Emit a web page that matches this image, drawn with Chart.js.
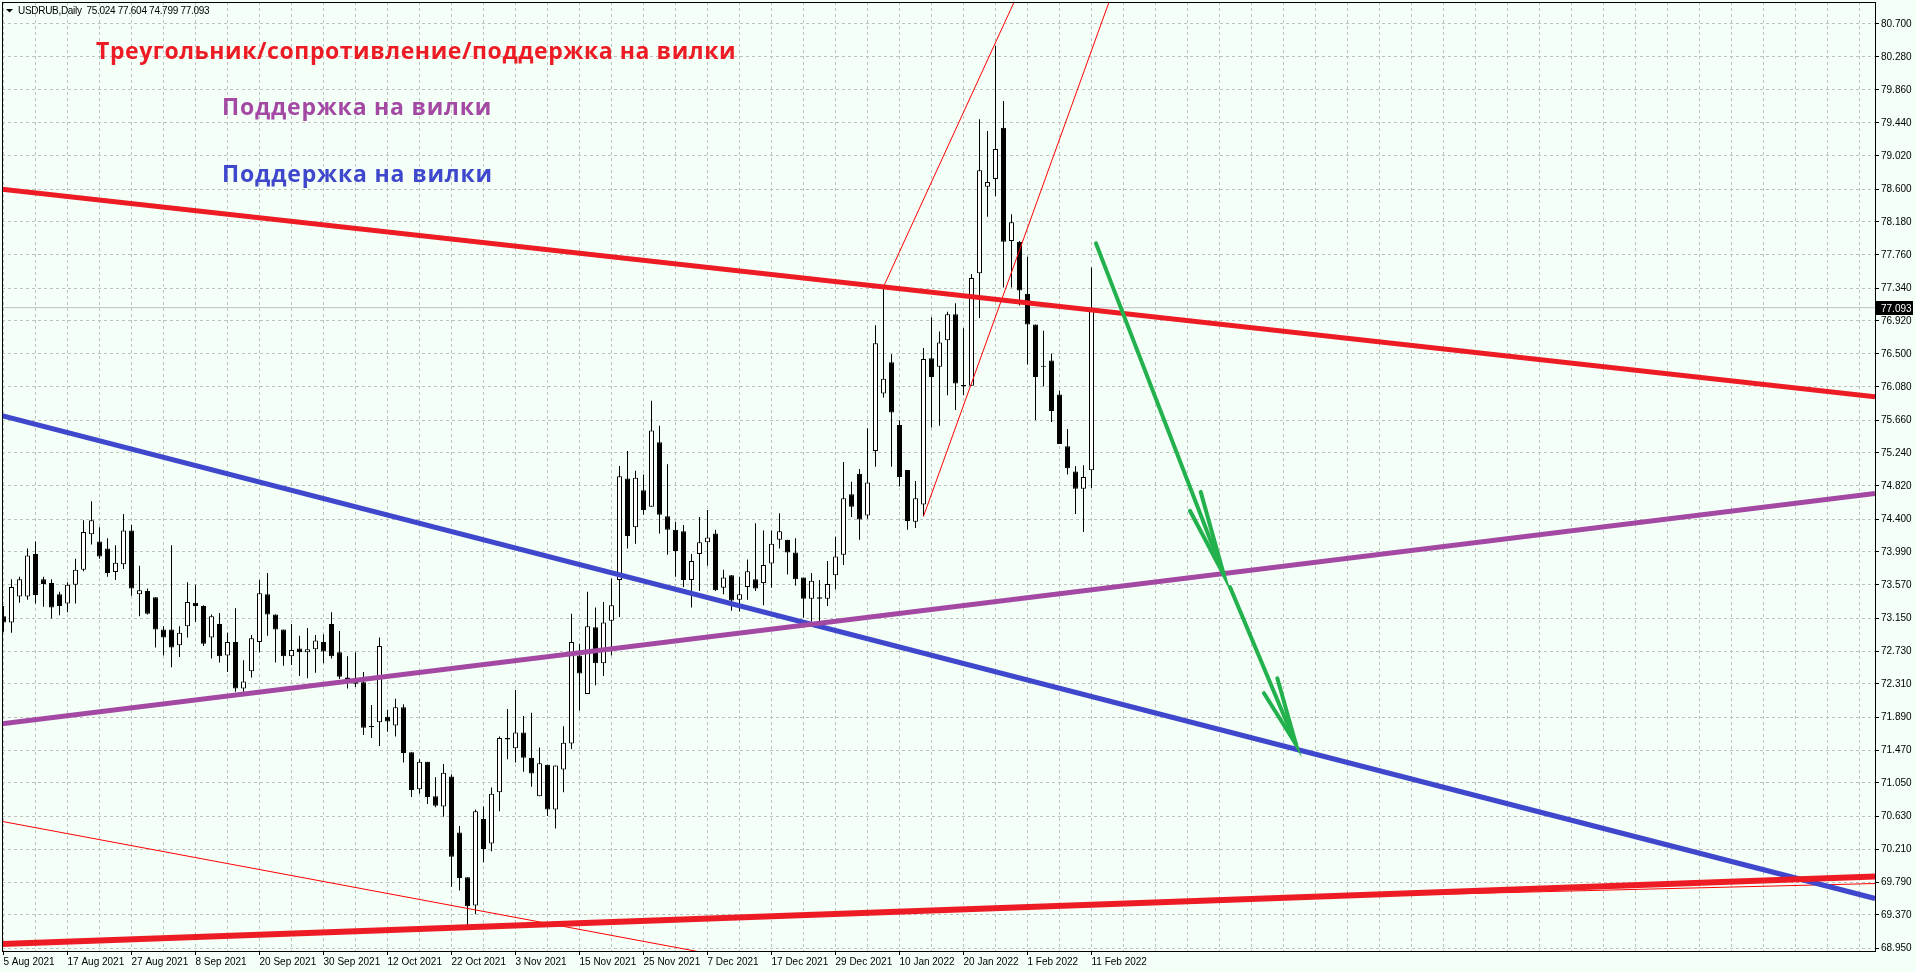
<!DOCTYPE html>
<html>
<head>
<meta charset="utf-8">
<title>USDRUB Daily</title>
<script src="https://cdn.jsdelivr.net/npm/chart.js@4.4.1/dist/chart.umd.min.js"></script>
<style>
  html, body { margin: 0; padding: 0; background: #f4fff8; }
  #wrap { position: relative; width: 1916px; height: 972px; overflow: hidden; }
  #usdrub { position: absolute; left: 0; top: 0; }
  .note { position: absolute; white-space: nowrap; font-family: 'Open Sans', 'Noto Sans', sans-serif; font-weight: 700; font-size: 23px; line-height: 23px; }
  #head { position: absolute; left: 18px; top: 6px; font: 10px/10px 'Liberation Sans', Arial, sans-serif; letter-spacing: -0.3px; color: #000; white-space: pre; }
</style>
</head>
<body>
<div id="wrap">
  <canvas id="usdrub" width="1916" height="972"></canvas>
  <div id="head"></div>
  <div class="note" id="t1" style="left:96px; top:39px; color:#ed1c24">Треугольник/сопротивление/поддержка на вилки</div>
  <div class="note" id="t2" style="left:222px; top:95px; color:#a349a4">Поддержка на вилки</div>
  <div class="note" id="t3" style="left:222px; top:162px; color:#3f48cc">Поддержка на вилки</div>
</div>
<script>
// daily bars, one per trading day starting 5 Aug 2021
const xLabels = ['5 Aug 2021', '17 Aug 2021', '27 Aug 2021', '8 Sep 2021', '20 Sep 2021', '30 Sep 2021',
  '12 Oct 2021', '22 Oct 2021', '3 Nov 2021', '15 Nov 2021', '25 Nov 2021', '7 Dec 2021', '17 Dec 2021',
  '29 Dec 2021', '10 Jan 2022', '20 Jan 2022', '1 Feb 2022', '11 Feb 2022']

// price axis, top to bottom
const yLabels = ['80.700', '80.280', '79.860', '79.440', '79.020', '78.600', '78.180', '77.760', '77.340',
  '76.920', '76.500', '76.080', '75.660', '75.240', '74.820', '74.400', '73.990', '73.570', '73.150',
  '72.730', '72.310', '71.890', '71.470', '71.050', '70.630', '70.210', '69.790', '69.370', '68.950']

const opens = [73.17, 73.09, 73.42, 73.42, 73.96, 73.64, 73.59, 73.45, 73.33, 73.57,
  73.76, 74.21, 74.12, 74.03, 73.73, 73.83, 74.26, 73.45, 73.49, 73.41,
  73.00, 73.00, 72.80, 73.04, 73.34, 73.30, 72.90, 73.07, 72.67, 72.84,
  72.25, 72.47, 72.84, 73.45, 73.19, 73.00, 72.66, 72.76, 72.71, 72.75,
  72.84, 73.07, 72.71, 72.39, 72.37, 72.33, 71.76, 71.82, 71.89, 71.78,
  72.01, 71.44, 70.97, 71.32, 70.88, 70.75, 71.13, 70.42, 69.85, 69.49,
  70.59, 70.28, 70.93, 71.62, 71.49, 71.69, 71.37, 70.88, 71.28, 70.71,
  71.22, 71.55, 72.67, 72.18, 73.03, 72.57, 73.11, 73.63, 74.92, 74.30,
  74.77, 74.56, 75.38, 74.44, 74.27, 74.25, 73.63, 73.96, 74.11, 74.22,
  73.53, 73.69, 73.38, 73.54, 73.64, 73.59, 73.84, 74.14, 74.14, 73.98,
  73.66, 73.39, 73.39, 73.39, 73.69, 73.95, 74.72, 74.98, 74.45, 75.27,
  76.00, 76.40, 75.60, 75.03, 74.37, 74.59, 76.45, 76.34, 76.68, 77.01,
  76.11, 76.10, 77.53, 78.63, 78.73, 79.38, 77.94, 77.93, 77.27, 76.88,
  76.34, 76.42, 75.99, 75.33, 75.01, 74.79, 75.024]

const highs = [73.30, 73.64, 73.67, 74.03, 74.12, 73.67, 73.64, 73.48, 73.60, 73.90,
  74.39, 74.63, 74.30, 74.16, 74.07, 74.47, 74.33, 73.81, 73.52, 73.41,
  73.04, 74.07, 73.04, 73.60, 73.57, 73.31, 73.19, 73.21, 72.96, 73.27,
  72.61, 72.93, 73.63, 73.72, 73.19, 73.00, 73.07, 72.92, 73.02, 72.93,
  72.94, 73.22, 72.98, 72.66, 72.71, 72.46, 72.04, 72.90, 71.98, 72.12,
  72.05, 71.44, 71.35, 71.32, 71.12, 71.29, 71.16, 70.50, 69.85, 70.71,
  70.75, 70.99, 71.64, 71.99, 72.23, 71.90, 71.94, 71.50, 71.28, 71.27,
  71.77, 73.20, 72.82, 73.48, 73.28, 73.35, 73.65, 75.08, 75.27, 75.02,
  74.97, 75.91, 75.59, 75.10, 74.37, 74.33, 73.96, 74.43, 74.52, 74.27,
  73.76, 73.69, 73.67, 73.89, 74.35, 74.26, 74.26, 74.48, 74.14, 74.16,
  73.66, 73.72, 73.63, 73.87, 74.18, 75.13, 74.88, 75.04, 75.56, 76.87,
  77.36, 76.50, 75.66, 75.03, 74.89, 76.58, 76.97, 76.79, 77.04, 77.15,
  76.83, 77.52, 79.49, 79.34, 80.42, 79.72, 78.28, 77.94, 77.74, 76.88,
  76.80, 76.51, 76.04, 75.55, 75.08, 75.09, 77.604]

const lows = [72.97, 72.96, 73.34, 73.38, 73.33, 73.29, 73.14, 73.18, 73.22, 73.33,
  73.74, 74.08, 73.90, 73.67, 73.63, 73.77, 73.43, 73.17, 73.19, 72.77,
  72.67, 72.52, 72.65, 72.90, 73.10, 72.79, 72.63, 72.58, 72.46, 72.21,
  72.21, 72.39, 72.71, 72.92, 72.58, 72.54, 72.55, 72.41, 72.38, 72.45,
  72.57, 72.63, 72.37, 72.25, 72.27, 71.66, 71.62, 71.52, 71.70, 71.64,
  71.31, 70.87, 70.91, 70.78, 70.74, 70.62, 69.73, 69.68, 69.23, 69.38,
  70.04, 70.18, 70.69, 71.35, 71.31, 71.19, 71.00, 70.88, 70.63, 70.47,
  70.93, 71.48, 71.97, 72.18, 72.29, 72.41, 72.67, 73.16, 74.03, 74.09,
  74.46, 74.56, 74.22, 73.95, 73.67, 73.54, 73.28, 73.49, 73.81, 73.49,
  73.45, 73.24, 73.23, 73.38, 73.49, 73.31, 73.53, 74.03, 73.70, 73.56,
  73.15, 73.10, 73.10, 73.30, 73.51, 73.82, 74.43, 74.14, 74.41, 75.07,
  75.95, 75.07, 74.82, 74.27, 74.29, 74.44, 75.57, 75.59, 75.98, 75.79,
  75.98, 76.10, 76.96, 78.25, 78.51, 77.35, 77.35, 77.12, 76.37, 75.66,
  76.09, 75.64, 75.36, 74.97, 74.47, 74.24, 74.799]

const closes = [73.09, 73.54, 73.64, 73.94, 73.44, 73.58, 73.28, 73.30, 73.57, 73.76,
  74.24, 74.39, 73.93, 73.72, 73.85, 74.26, 73.52, 73.50, 73.20, 73.00,
  72.90, 72.77, 72.96, 73.35, 73.30, 72.82, 73.17, 72.66, 72.84, 72.25,
  72.34, 72.89, 73.46, 73.19, 73.00, 72.66, 72.74, 72.71, 72.75, 72.86,
  72.72, 72.66, 72.40, 72.37, 72.31, 71.75, 71.76, 72.79, 71.83, 72.01,
  71.43, 70.96, 71.32, 70.87, 70.76, 71.18, 70.11, 69.84, 69.48, 70.69,
  70.21, 70.91, 71.62, 71.60, 71.69, 71.37, 71.17, 71.30, 70.71, 71.27,
  71.56, 72.84, 72.44, 73.04, 72.57, 73.09, 73.31, 74.95, 74.19, 74.93,
  74.52, 75.53, 74.46, 74.27, 74.00, 73.63, 73.87, 74.11, 74.17, 73.50,
  73.66, 73.37, 73.45, 73.74, 73.52, 73.82, 74.09, 74.25, 73.98, 73.64,
  73.39, 73.62, 73.41, 73.58, 73.93, 74.67, 74.56, 74.40, 74.87, 76.64,
  76.19, 75.76, 74.94, 74.38, 74.67, 76.44, 76.21, 76.65, 77.01, 76.13,
  76.09, 77.47, 78.84, 78.69, 79.11, 77.93, 78.18, 77.31, 76.88, 76.21,
  76.34, 75.78, 75.36, 75.05, 74.79, 74.94, 77.093]

// lines drawn over the chart, as [bar index, price]
const redUpper = [[-0.19, 78.60], [233.94, 75.96]]
const redLower = [[-0.19, 69.00], [233.94, 69.86]]
const redLowerThin = [[162.06, 69.59], [233.94, 69.77]]
const purpleLine = [[-0.19, 71.80], [233.94, 74.73]]
const blueLine = [[-0.19, 75.72], [233.94, 69.58]]
const thinDown = [[-0.19, 70.56], [87.06, 68.90]]
const forkA = [[110, 77.36], [127.5, 81.24]]
const forkB = [[115, 74.44], [140, 81.49]]
const arrow1 = [[136.56, 77.91], [152.56, 73.69]]
const head1 = [[148.31, 74.51], [152.56, 73.69], [149.65, 74.75]]
const arrow2 = [[153.31, 73.54], [161.56, 71.54]]
const head2 = [[157.56, 72.19], [161.56, 71.54], [159.23, 72.38]]

const lastClose = closes[closes.length - 1]

// header text
document.getElementById('head').textContent =
  'USDRUB,Daily  ' + [opens, highs, lows, closes].map(a => a[a.length - 1].toFixed(3)).join(' ')

// stretch the notes to the width they have in the picture
const noteWidths = { t1: 640, t2: 270, t3: 271 }
Object.keys(noteWidths).forEach(id => {
  const el = document.getElementById(id)
  const w = el.getBoundingClientRect().width
  el.style.letterSpacing = ((noteWidths[id] - w) / el.textContent.length).toFixed(2) + 'px'
})

const pts = arr => arr.map(p => ({ x: p[0], y: p[1] }))
const idx = opens.map((_, i) => i)

// plot area in pixels: MT4 window
const plot = { left: 2, top: 2, right: 1875, bottom: 951 }
const barPx = 8
const firstBarX = 3.5
const xMin = -(firstBarX - plot.left) / barPx
const xMax = xMin + (plot.right - plot.left) / barPx

const yTop = parseFloat(yLabels[0])
const yBottom = parseFloat(yLabels[yLabels.length - 1])
const yStep = (yTop - yBottom) / (yLabels.length - 1)
const pxPerUnit = (948 - 24) / (yTop - yBottom)
const yMax = yTop + (24 - plot.top) / pxPerUnit
const yMin = yBottom - (plot.bottom - 948) / pxPerUnit
const yTickLabels = yLabels.slice().reverse()
const yTickValues = yTickLabels.map((_, k) => yBottom + k * yStep)

const xTickValues = []
for (let v = 0; v <= xMax; v += 4) xTickValues.push(v)
const labelAt = v => (v % 8 === 0 && v / 8 < xLabels.length) ? xLabels[v / 8] : ''

const axisFont = { family: '"Liberation Sans", Arial, sans-serif', size: 10 }

const lineSet = (data, color, width, order, cap) => ({
  type: 'line',
  data: pts(data),
  borderColor: color,
  borderWidth: width,
  borderCapStyle: cap || 'butt',
  pointRadius: 0,
  fill: false,
  tension: 0,
  order
})

const mtFrame = {
  id: 'mtFrame',
  afterDraw (chart) {
    const { ctx, chartArea: a, scales: { y } } = chart
    ctx.save()
    ctx.strokeStyle = '#000'
    ctx.lineWidth = 1
    ctx.strokeRect(Math.round(a.left) + 0.5, Math.round(a.top) + 0.5,
      Math.round(a.right - a.left), Math.round(a.bottom - a.top))

    // last price tag on the axis
    const py = Math.round(y.getPixelForValue(lastClose))
    ctx.fillStyle = '#000'
    ctx.fillRect(a.right + 1, py - 7, 37, 14)
    ctx.fillStyle = '#fff'
    ctx.font = '10px "Liberation Sans", Arial, sans-serif'
    ctx.textBaseline = 'middle'
    ctx.fillText(lastClose.toFixed(3), a.right + 6, py + 1)

    // little triangle before the symbol name
    ctx.fillStyle = '#000'
    ctx.beginPath()
    ctx.moveTo(6, 9)
    ctx.lineTo(13, 9)
    ctx.lineTo(9.5, 12.5)
    ctx.closePath()
    ctx.fill()
    ctx.restore()
  }
}

new Chart(document.getElementById('usdrub'), {
  type: 'bar',
  data: {
    datasets: [
      lineSet(arrow1, '#22b14c', 4, 0, 'round'),
      lineSet(head1, '#22b14c', 4, 0, 'round'),
      lineSet(arrow2, '#22b14c', 4, 0, 'round'),
      lineSet(head2, '#22b14c', 4, 0, 'round'),
      lineSet(redUpper, '#ed1c24', 5, 1),
      lineSet(redLower, '#ed1c24', 6, 1),
      lineSet(purpleLine, '#a349a4', 5, 1),
      lineSet(blueLine, '#3f48cc', 5, 1),
      lineSet(redLowerThin, '#ff0000', 1, 2),
      lineSet(thinDown, '#ff0000', 1, 2),
      lineSet(forkA, '#ff0000', 1, 2),
      lineSet(forkB, '#ff0000', 1, 2),
      {
        type: 'bar',
        data: idx.map(i => ({ x: i, y: [opens[i], closes[i]] })),
        backgroundColor: idx.map(i => closes[i] >= opens[i] ? '#ffffff' : '#000000'),
        borderColor: '#000000',
        borderWidth: 1,
        borderSkipped: false,
        grouped: false,
        categoryPercentage: 1,
        barPercentage: 5 / 8,
        maxBarThickness: 5,
        minBarLength: 1,
        inflateAmount: 0,
        order: 3
      },
      {
        type: 'bar',
        data: idx.map(i => ({ x: i, y: [lows[i], highs[i]] })),
        backgroundColor: '#000000',
        borderWidth: 0,
        grouped: false,
        categoryPercentage: 1,
        barPercentage: 1 / 8,
        maxBarThickness: 1,
        inflateAmount: 0,
        order: 4
      },
      lineSet([[xMin, lastClose], [xMax, lastClose]], '#c0c0c0', 1, 5)
    ]
  },
  options: {
    responsive: false,
    animation: false,
    events: [],
    layout: { padding: { left: plot.left, top: plot.top, right: 0, bottom: 0 } },
    plugins: { legend: { display: false }, tooltip: { enabled: false } },
    scales: {
      x: {
        type: 'linear',
        position: 'bottom',
        bounds: 'data',
        offset: false,
        min: xMin,
        max: xMax,
        grid: {
          offset: false,
          color: '#c0c0c0',
          tickLength: 4,
          tickColor: c => (c.tick && labelAt(c.tick.value) !== '') ? '#000' : 'rgba(0,0,0,0)'
        },
        border: { display: true, color: '#000', dash: [3, 3] },
        ticks: {
          autoSkip: false,
          maxRotation: 0,
          minRotation: 0,
          align: 'start',
          padding: 1,
          color: '#000',
          font: axisFont,
          callback: v => labelAt(v)
        },
        afterBuildTicks: s => { s.ticks = xTickValues.map(v => ({ value: v })) },
        afterFit: s => {
          s.height = 972 - plot.bottom
          s.paddingLeft = s.paddingRight = s.paddingTop = s.paddingBottom = 0
        }
      },
      y: {
        type: 'linear',
        position: 'right',
        bounds: 'data',
        offset: false,
        min: yMin,
        max: yMax,
        grid: { color: '#c0c0c0', tickLength: 4, tickColor: '#000' },
        border: { display: true, color: '#000', dash: [3, 3] },
        ticks: {
          autoSkip: false,
          padding: 2,
          color: '#000',
          font: axisFont,
          callback: (v, i) => yTickLabels[i]
        },
        afterBuildTicks: s => { s.ticks = yTickValues.map(v => ({ value: v })) },
        afterFit: s => {
          s.width = 1916 - plot.right
          s.paddingLeft = s.paddingRight = s.paddingTop = s.paddingBottom = 0
        }
      }
    }
  },
  plugins: [mtFrame]
})
</script>
</body>
</html>
